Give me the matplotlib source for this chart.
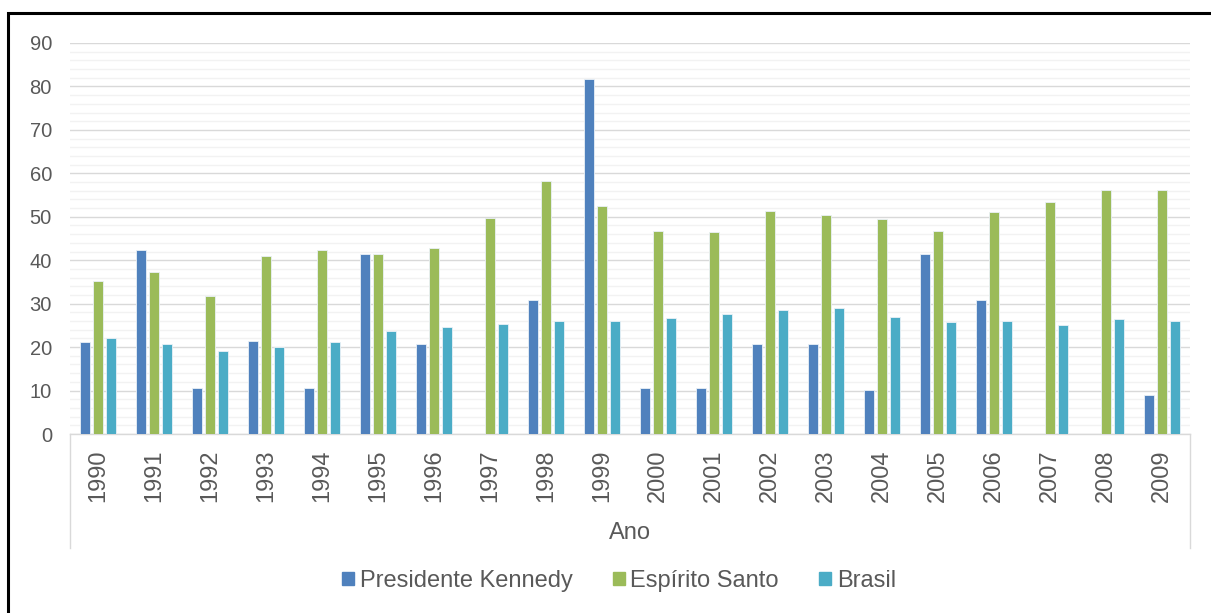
import numpy as np
import matplotlib.pyplot as plt
from matplotlib.patches import Patch, Rectangle
from matplotlib.lines import Line2D

anos = [str(a) for a in range(1990, 2010)]
presidente_kennedy = [21.2, 42.3, 10.5, 21.3, 10.5, 41.5, 20.8, 0, 30.9, 81.8,
                      10.5, 10.5, 20.8, 20.8, 10.2, 41.5, 30.9, 0, 0, 9.0]
espirito_santo = [35.3, 37.3, 31.8, 40.9, 42.3, 41.5, 42.7, 49.8, 58.3, 52.4,
                  46.8, 46.5, 51.3, 50.3, 49.5, 46.8, 51.2, 53.5, 56.2, 56.2]
brasil = [22.0, 20.8, 19.1, 20.0, 21.1, 23.8, 24.6, 25.3, 25.9, 26.1,
          26.7, 27.6, 28.5, 28.9, 27.0, 25.8, 26.1, 25.0, 26.4, 26.1]

series = [("Presidente Kennedy", presidente_kennedy, "#4F81BD"),
          ("Espírito Santo", espirito_santo, "#9BBB59"),
          ("Brasil", brasil, "#4BACC6")]

plt.rcParams['font.family'] = ['Liberation Sans', 'DejaVu Sans']
W, H = 1211, 613
fig = plt.figure(figsize=(W / 100, H / 100), dpi=100)

# moldura preta
fig.add_artist(Rectangle((8 / W, -0.05), 1.1, (H - 13) / H + 0.05, transform=fig.transFigure,
                         fill=False, edgecolor='black', lw=2.2))

x0, x1 = 70 / W, 1190 / W
yb, yt = (H - 434) / H, (H - 43) / H
ax = fig.add_axes([x0, yb, x1 - x0, yt - yb])

x = np.arange(len(anos))
w = 0.18
step = 0.225
for i, (nome, vals, cor) in enumerate(series):
    ax.bar(x + (i - 1) * step, vals, width=w, color=cor, edgecolor='#EAF1F7',
           linewidth=0.6, label=nome, zorder=3)

ax.set_xlim(-0.5, len(anos) - 0.5)
ax.set_ylim(0, 90)
ax.set_yticks(np.arange(0, 91, 10))
ax.set_yticks(np.arange(0, 91, 2), minor=True)
ax.grid(axis='y', which='major', color='#D9D9D9', lw=1.0, zorder=0)
ax.grid(axis='y', which='minor', color='#F2F2F2', lw=1.0, zorder=0)
ax.set_xticks(x)
ax.set_xticklabels(anos, rotation=90, va='top')
ax.tick_params(axis='x', length=0, pad=11, labelsize=17, labelcolor='#595959')
ax.tick_params(axis='y', which='both', length=0, pad=13, labelsize=14.5, labelcolor='#595959')
for s in ['top', 'right', 'left']:
    ax.spines[s].set_visible(False)
ax.spines['bottom'].set_color('#D9D9D9')
ax.spines['bottom'].set_linewidth(1.0)

# linhas do eixo de categorias
for xv in (x0, x1):
    fig.add_artist(Line2D([xv, xv], [yb, (H - 548) / H], transform=fig.transFigure,
                          color='#D9D9D9', lw=1.0))

fig.text(630 / W, (H - 533) / H, "Ano", ha='center', va='center', fontsize=17, color='#595959')

handles = [Patch(color=c, label=n) for n, _, c in series]
fig.legend(handles=handles, loc='center', bbox_to_anchor=(619 / W, (H - 581) / H),
           ncol=3, frameon=False, fontsize=17, handlelength=0.5, handleheight=0.5,
           handletextpad=0.25, columnspacing=1.7, labelcolor='#595959')

fig.savefig("out.png", dpi=100)
